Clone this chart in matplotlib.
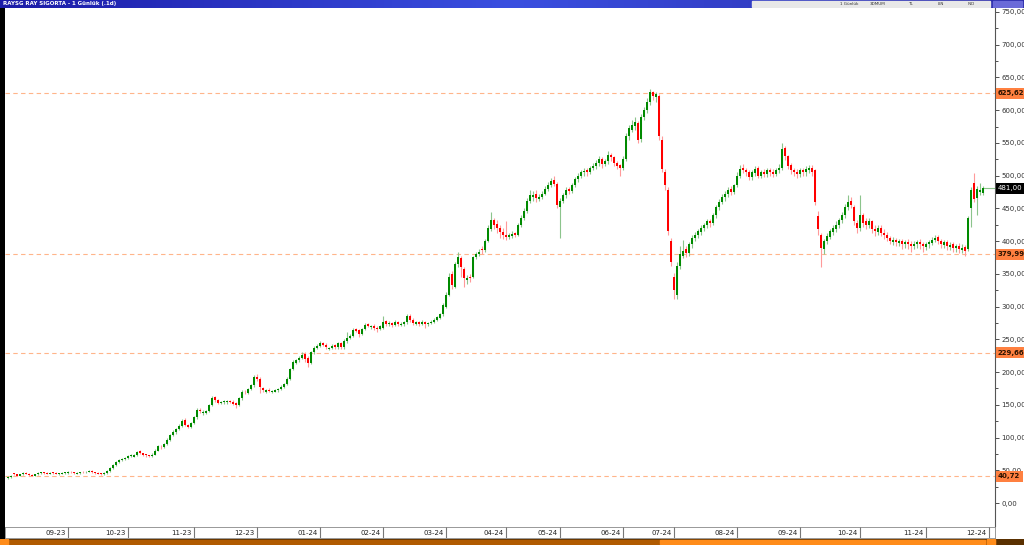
import numpy as np
import matplotlib
matplotlib.use("Agg")
import matplotlib.pyplot as plt
from matplotlib.transforms import blended_transform_factory

# daily candles, RAYSG
opens = [39, 40, 45, 44, 42, 44, 46, 45, 43, 42,
         44, 46, 47, 46, 45, 47, 46, 44, 45, 46,
         46, 48, 47, 45, 46, 48, 47, 48, 49, 47,
         46, 45, 44, 46, 49, 54, 58, 63, 66, 67,
         69, 72, 71, 73, 79, 76, 74, 73, 72, 74,
         80, 86, 85, 90, 97, 104, 108, 113, 117, 127,
         119, 116, 122, 131, 142, 137, 138, 140, 150, 162,
         158, 153, 154, 154, 156, 155, 153, 150, 160, 170,
         168, 174, 180, 193, 190, 176, 170, 173, 170, 170,
         172, 174, 178, 182, 190, 205, 214, 218, 222, 228,
         222, 214, 230, 237, 240, 244, 242, 236, 237, 241,
         238, 244, 238, 247, 252, 255, 266, 264, 258, 266,
         273, 269, 270, 268, 266, 268, 278, 273, 275, 272,
         276, 272, 273, 276, 286, 280, 274, 276, 274, 276,
         273, 275, 277, 280, 283, 288, 300, 318, 350, 330,
         365, 375, 358, 340, 345, 345, 376, 380, 388, 386,
         400, 418, 433, 426, 420, 414, 410, 406, 408, 412,
         410, 425, 436, 446, 462, 468, 472, 465, 468, 472,
         480, 486, 494, 488, 452, 462, 470, 479, 476, 485,
         495, 500, 505, 508, 505, 512, 515, 520, 526, 518,
         522, 532, 528, 520, 516, 512, 525, 560, 570, 576,
         580, 556, 590, 600, 612, 628, 620, 622, 555, 505,
         478, 400, 345, 318, 362, 378, 388, 382, 395, 405,
         410, 414, 420, 424, 431, 428, 440, 452, 460, 467,
         472, 479, 475, 485, 500, 511, 509, 505, 498, 504,
         511, 500, 506, 502, 508, 506, 503, 508, 512, 542,
         530, 516, 508, 505, 502, 509, 505, 509, 512, 508,
         438, 410, 388, 400, 407, 414, 419, 424, 432, 440,
         452, 462, 452, 428, 420, 440, 430, 424, 430, 419,
         414, 420, 413, 410, 405, 399, 402, 397, 400, 395,
         399, 396, 392, 395, 399, 395, 391, 395, 397, 401,
         406, 400, 394, 398, 391, 395, 389, 393, 387, 391,
         388, 450, 489, 466, 475, 474]
highs = [41, 43, 46, 45, 45, 47, 47, 46, 44, 45,
         47, 48, 48, 47, 47, 48, 47, 46, 47, 48,
         49, 49, 48, 47, 48, 49, 49, 50, 50, 48,
         47, 46, 47, 50, 55, 60, 65, 68, 69, 71,
         74, 75, 75, 80, 81, 77, 75, 74, 76, 82,
         89, 88, 92, 99, 106, 111, 115, 120, 128, 130,
         121, 124, 133, 145, 145, 142, 142, 152, 163, 164,
         159, 156, 157, 158, 158, 157, 154, 162, 172, 173,
         176, 182, 196, 197, 192, 178, 174, 175, 173, 174,
         176, 180, 184, 192, 207, 218, 220, 225, 230, 231,
         224, 232, 240, 243, 248, 246, 244, 239, 243, 243,
         246, 246, 250, 262, 258, 267, 268, 266, 268, 275,
         275, 272, 273, 270, 272, 286, 280, 278, 277, 279,
         278, 276, 278, 288, 288, 283, 278, 278, 279, 278,
         277, 279, 282, 286, 291, 305, 322, 352, 355, 368,
         383, 377, 360, 348, 350, 378, 384, 388, 392, 404,
         424, 444, 436, 432, 425, 420, 430, 413, 415, 414,
         428, 440, 450, 466, 478, 476, 478, 472, 476, 484,
         490, 496, 500, 490, 466, 474, 482, 482, 489, 498,
         504, 508, 512, 511, 515, 520, 524, 530, 528, 526,
         538, 535, 530, 522, 518, 530, 565, 578, 585, 590,
         584, 594, 605, 618, 632, 630, 628, 624, 560, 510,
         482, 405, 352, 368, 392, 402, 392, 398, 410, 414,
         418, 424, 428, 434, 434, 443, 455, 464, 472, 476,
         482, 484, 488, 505, 516, 518, 512, 508, 508, 514,
         514, 508, 510, 512, 512, 510, 512, 518, 550, 545,
         532, 520, 512, 510, 512, 512, 514, 516, 516, 510,
         446, 412, 404, 412, 418, 424, 430, 436, 445, 456,
         470, 468, 455, 432, 470, 443, 435, 436, 433, 424,
         424, 424, 418, 414, 408, 406, 405, 404, 404, 402,
         404, 400, 400, 402, 403, 399, 399, 402, 406, 410,
         410, 404, 402, 401, 398, 398, 396, 397, 395, 394,
         438, 482, 504, 484, 489, 484]
lows = [37, 39, 43, 41, 41, 43, 44, 42, 41, 41,
        43, 45, 45, 44, 44, 45, 44, 43, 44, 45,
        45, 46, 45, 44, 45, 46, 46, 47, 46, 45,
        44, 43, 43, 45, 48, 52, 57, 61, 64, 66,
        68, 70, 70, 72, 75, 72, 71, 70, 71, 73,
        79, 83, 84, 89, 95, 102, 106, 111, 116, 117,
        114, 114, 120, 129, 138, 135, 136, 139, 148, 155,
        151, 151, 152, 152, 153, 150, 145, 149, 158, 166,
        166, 172, 178, 187, 168, 170, 168, 169, 168, 169,
        170, 172, 176, 180, 188, 203, 212, 216, 220, 216,
        208, 212, 228, 235, 238, 240, 235, 233, 235, 236,
        236, 236, 236, 245, 250, 253, 261, 254, 256, 264,
        269, 266, 265, 262, 264, 266, 271, 270, 269, 270,
        270, 270, 271, 274, 276, 272, 272, 271, 272, 268,
        270, 273, 275, 278, 281, 286, 298, 316, 327, 328,
        360, 345, 330, 334, 338, 343, 372, 377, 380, 384,
        398, 415, 418, 412, 405, 404, 402, 403, 405, 406,
        408, 422, 432, 443, 458, 462, 460, 462, 465, 470,
        476, 483, 484, 450, 405, 458, 466, 472, 474, 482,
        490, 496, 500, 500, 502, 508, 510, 515, 512, 514,
        518, 522, 515, 510, 500, 508, 522, 555, 566, 570,
        550, 552, 585, 596, 608, 615, 612, 555, 505, 478,
        410, 362, 312, 312, 358, 374, 376, 378, 390, 400,
        405, 410, 415, 420, 422, 424, 436, 448, 456, 462,
        468, 470, 472, 482, 496, 504, 500, 494, 494, 500,
        496, 496, 498, 498, 500, 498, 500, 504, 508, 524,
        510, 503, 500, 496, 498, 500, 500, 504, 500, 455,
        410, 360, 380, 395, 403, 410, 414, 420, 428, 436,
        448, 450, 424, 412, 416, 422, 418, 420, 412, 408,
        410, 408, 404, 400, 396, 394, 392, 392, 388, 390,
        388, 384, 388, 390, 388, 384, 386, 390, 394, 398,
        396, 390, 390, 386, 386, 384, 384, 382, 382, 378,
        385, 421, 460, 440, 470, 470]
closes = [40, 42, 44, 42, 44, 46, 45, 43, 42, 44,
          46, 47, 46, 45, 46, 46, 45, 45, 46, 47,
          48, 47, 46, 46, 47, 47, 48, 49, 47, 46,
          45, 44, 46, 49, 53, 58, 63, 66, 67, 69,
          72, 73, 73, 78, 76, 73, 73, 72, 74, 80,
          87, 85, 90, 97, 104, 108, 113, 117, 125, 119,
          116, 122, 131, 142, 141, 139, 140, 150, 160, 158,
          153, 154, 155, 156, 155, 152, 150, 160, 170, 169,
          174, 180, 193, 190, 178, 172, 172, 171, 171, 172,
          174, 178, 182, 190, 205, 215, 218, 222, 226, 220,
          214, 230, 237, 240, 244, 242, 238, 237, 240, 238,
          244, 238, 248, 252, 255, 264, 263, 258, 266, 272,
          271, 270, 268, 266, 270, 277, 274, 275, 272, 276,
          273, 274, 276, 285, 280, 275, 276, 274, 276, 274,
          275, 277, 280, 284, 288, 302, 318, 345, 333, 365,
          376, 360, 343, 344, 343, 376, 380, 384, 386, 400,
          420, 432, 425, 420, 414, 409, 406, 410, 411, 410,
          425, 436, 446, 462, 470, 471, 466, 468, 472, 480,
          486, 492, 488, 455, 462, 470, 478, 476, 485, 495,
          500, 505, 507, 505, 512, 515, 520, 525, 518, 522,
          532, 528, 520, 515, 512, 525, 560, 572, 578, 582,
          555, 590, 600, 612, 628, 622, 625, 560, 510, 485,
          415, 368, 325, 362, 380, 385, 382, 395, 405, 410,
          415, 420, 425, 430, 428, 440, 452, 460, 468, 472,
          478, 475, 485, 500, 510, 508, 505, 498, 505, 510,
          500, 505, 502, 508, 505, 503, 508, 512, 540, 530,
          515, 508, 505, 502, 508, 505, 510, 512, 505, 460,
          418, 390, 400, 408, 415, 420, 425, 432, 440, 452,
          460, 455, 430, 420, 440, 428, 425, 430, 418, 415,
          420, 412, 410, 405, 400, 402, 398, 400, 395, 398,
          395, 392, 396, 398, 395, 392, 395, 398, 402, 405,
          400, 395, 398, 392, 394, 390, 392, 388, 390, 385,
          435, 478, 465, 480, 478, 481]

# candle index where each month label sits (separator line)
month_pos = [20, 40, 62, 83, 104, 125, 146, 166, 184, 205, 222, 243, 264, 284, 306, 327]
month_labels = ["09-23", "10-23", "11-23", "12-23", "01-24", "02-24", "03-24", "04-24",
                "05-24", "06-24", "07-24", "08-24", "09-24", "10-24", "11-24", "12-24"]

levels = [625.62, 379.99, 229.66, 40.72]
last_price = 481.00

W, H = 1024, 545
fig = plt.figure(figsize=(W / 100, H / 100), dpi=100)
fig.patch.set_facecolor("white")


def px(l, t, r, b):
    return [l / W, 1 - b / H, (r - l) / W, (b - t) / H]


o = np.array(opens, float)
h = np.array(highs, float)
lo = np.array(lows, float)
c = np.array(closes, float)
x = np.arange(len(c))
up = c >= o

ax = fig.add_axes(px(5, 8, 995, 526))
ax.set_xlim(-1, 329)
ax.set_ylim(-35, 756)

for lv in levels:
    ax.axhline(lv, color="#ffb58a", lw=0.8, ls=(0, (4, 3)), zorder=1)

ax.vlines(x[up], lo[up], h[up], color="#8cc48c", lw=0.8, zorder=2)
ax.vlines(x[~up], lo[~up], h[~up], color="#ff9a9a", lw=0.8, zorder=2)
body = np.maximum(np.abs(c - o), 1.2)
ax.bar(x[up], body[up], bottom=np.minimum(o, c)[up], width=0.62, color="#008a00", lw=0, zorder=3)
ax.bar(x[~up], body[~up], bottom=np.minimum(o, c)[~up], width=0.62, color="#ff0000", lw=0, zorder=3)

# last price guide
ax.hlines(last_price, x[-1], 329, color="#8cc48c", lw=0.8, zorder=2)

ax.yaxis.tick_right()
ax.set_yticks(np.arange(0, 751, 50))
ax.set_yticks(np.arange(0, 751, 25), minor=True)
ax.set_yticklabels([f"{v:,.2f}".replace(".", ",") for v in np.arange(0, 751, 50)])
ax.tick_params(axis="y", which="major", labelsize=5, length=3, width=0.6, colors="#333333", pad=1.5)
ax.tick_params(axis="y", which="minor", length=2, width=0.6, colors="#333333")
ax.set_xticks([])
for s in ["top", "left", "bottom"]:
    ax.spines[s].set_visible(False)
ax.spines["right"].set_color("#555555")
ax.spines["right"].set_linewidth(0.8)

tr = blended_transform_factory(ax.transAxes, ax.transData)
for lv in levels:
    ax.text(1.003, lv, f"{lv:.2f}".replace(".", ","), transform=tr, fontsize=5, color="#2a1200",
            fontweight="bold", va="center", ha="left", zorder=5,
            bbox=dict(boxstyle="square,pad=0.35", fc="#ff8040", ec="none"))
ax.text(1.003, last_price, f"{last_price:.2f}".replace(".", ","), transform=tr, fontsize=5,
        color="white", va="center", ha="left", zorder=5,
        bbox=dict(boxstyle="square,pad=0.35", fc="black", ec="none"))

# date row
axd = fig.add_axes(px(5, 527, 995, 538))
axd.set_xlim(-1, 329)
axd.set_ylim(0, 1)
axd.set_xticks([])
axd.set_yticks([])
for s in axd.spines.values():
    s.set_color("#888888")
    s.set_linewidth(0.6)
for m, lab in zip(month_pos, month_labels):
    axd.axvline(m, color="#777777", lw=0.8)
    axd.text(m - 0.8, 0.45, lab, fontsize=5, color="#222222", ha="right", va="center")

# scroll bar
axs = fig.add_axes(px(0, 539, 1024, 545))
axs.set_xlim(0, W)
axs.set_ylim(0, 1)
axs.axis("off")
axs.axhspan(0, 1, color="#5a3000")
axs.axvspan(8, 995, ymin=0.15, ymax=0.85, color="#b05a00")
axs.axvspan(660, 985, ymin=0.15, ymax=0.85, color="#ff8c1a")
axs.axvspan(0, 8, color="#ff8c1a")
axs.axvspan(987, 995, color="#ff8c1a")

# title bar
axt = fig.add_axes(px(0, 0, 1024, 8))
axt.imshow(np.linspace(0, 1, 256)[None, :], aspect="auto", cmap=matplotlib.colors.LinearSegmentedColormap.from_list("tb", ["#1c1ca8", "#3a4fe0", "#2a2aa8"]),
           extent=[0, W, 0, 1])
axt.set_xlim(0, W)
axt.set_ylim(0, 1)
axt.axis("off")
axt.text(3, 0.5, "RAYSG RAY SIGORTA - 1 Günlük (.1d)", fontsize=4, color="white", fontweight="bold",
         va="center", ha="left")
axt.axvspan(752, 990, ymin=0.1, ymax=0.9, color="#e8e8e8")
for xx, lab in [(840, "1 Günlük"), (870, "3DMUM"), (908, "TL"), (938, "LIN"), (968, "IND")]:
    axt.text(xx, 0.5, lab, fontsize=3, color="#333333", va="center", ha="left")
axt.axvspan(993, 1022, ymin=0.1, ymax=0.9, color="#6a6ad8")

# left strip
axl = fig.add_axes(px(0, 8, 5, 539))
axl.set_facecolor("black")
axl.set_xticks([])
axl.set_yticks([])
for s in axl.spines.values():
    s.set_visible(False)

fig.savefig("out.png", dpi=100, facecolor="white")
